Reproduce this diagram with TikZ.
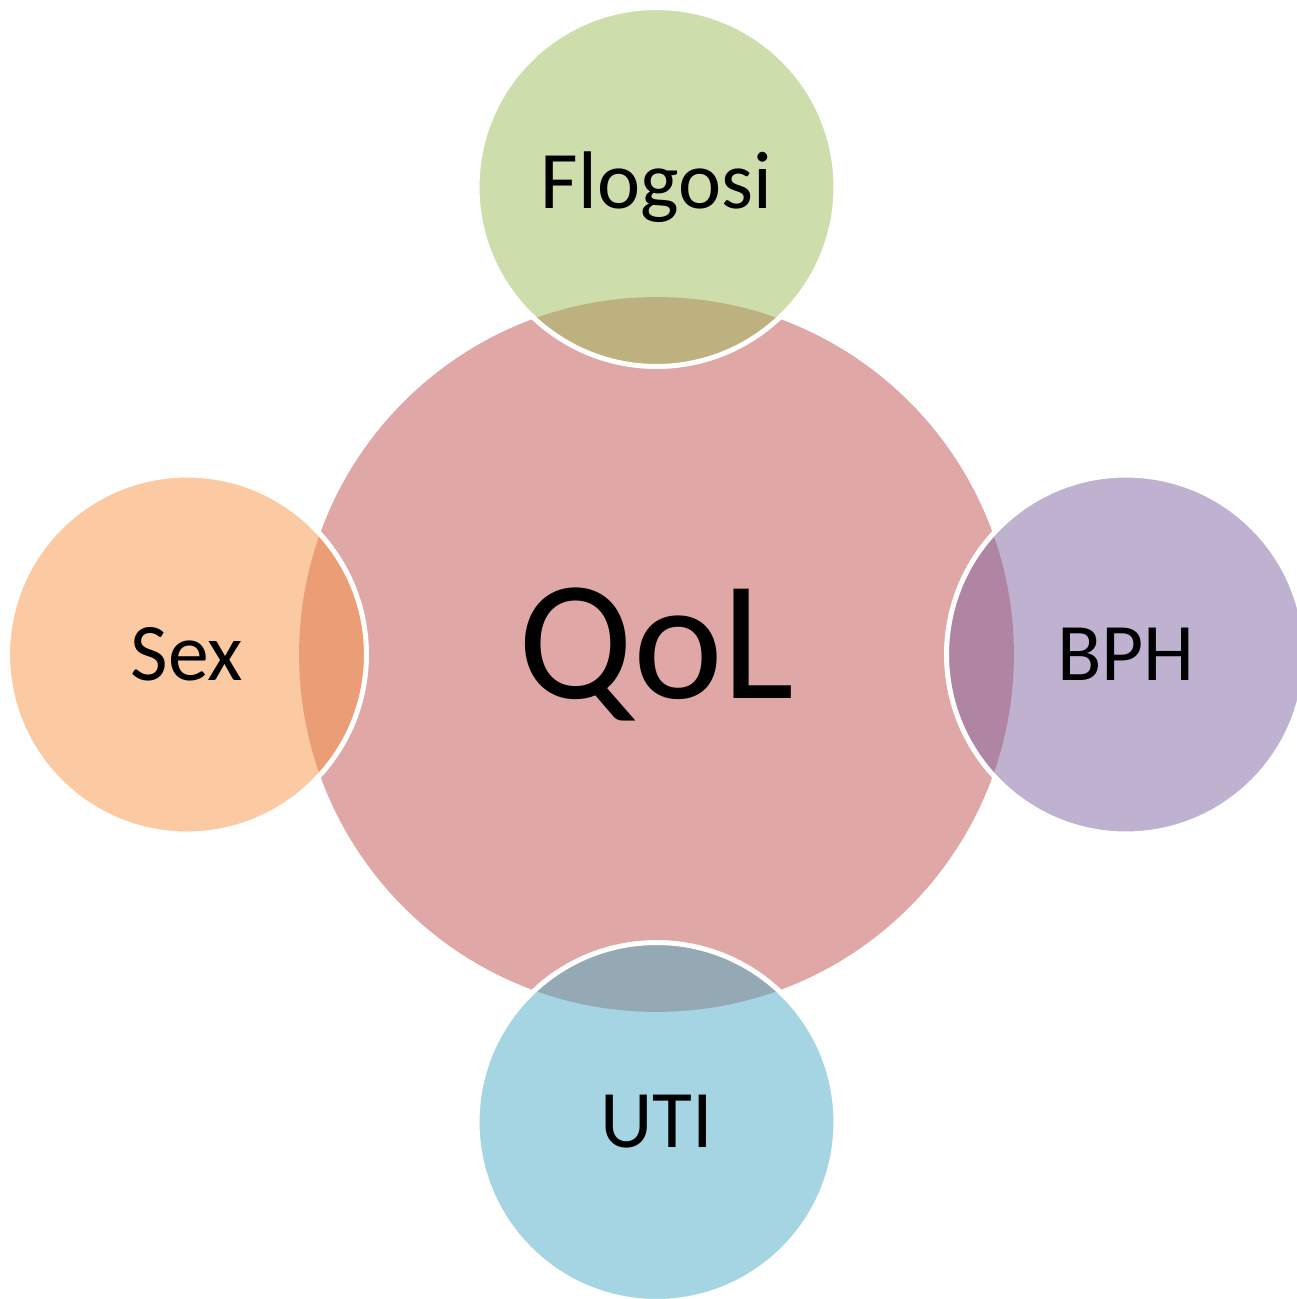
\documentclass[tikz,border=0pt]{standalone}
\usepackage{fontspec}
\setmainfont{Carlito}
\definecolor{qolred}{HTML}{C0504D}
\definecolor{flogreen}{HTML}{9BBB59}
\definecolor{sexorange}{HTML}{F79646}
\definecolor{bphpurple}{HTML}{8064A2}
\definecolor{utiblue}{HTML}{4BACC6}

\begin{document}
\begin{tikzpicture}[x=0.02cm, y=-0.02cm,
    hubcircle/.style={circle, fill=qolred, fill opacity=0.5, text opacity=1,
        inner sep=0pt, minimum size=14.3cm, font=\fontsize{97}{100}\selectfont},
    satcircle/.style={circle, draw=white, line width=0.1cm, fill opacity=0.5,
        draw opacity=1, text opacity=1, inner sep=0pt, minimum size=7.18cm,
        font=\fontsize{46.5}{50}\selectfont}]
    \useasboundingbox (0,0) rectangle (1297,1299);

    % First, the central circle
        \node[hubcircle] (qol) at (656.5, 654.5) {QoL};

    % Now the four circles around it
        \node[satcircle, fill=flogreen] (flogosi) at (656.5, 187) {Flogosi};
        \node[satcircle, fill=sexorange] (sex) at (187, 654.5) {Sex};
        \node[satcircle, fill=bphpurple] (bph) at (1126, 654.5) {BPH};
        \node[satcircle, fill=utiblue] (uti) at (656.5, 1122) {UTI};
    \end{tikzpicture}
\end{document}
